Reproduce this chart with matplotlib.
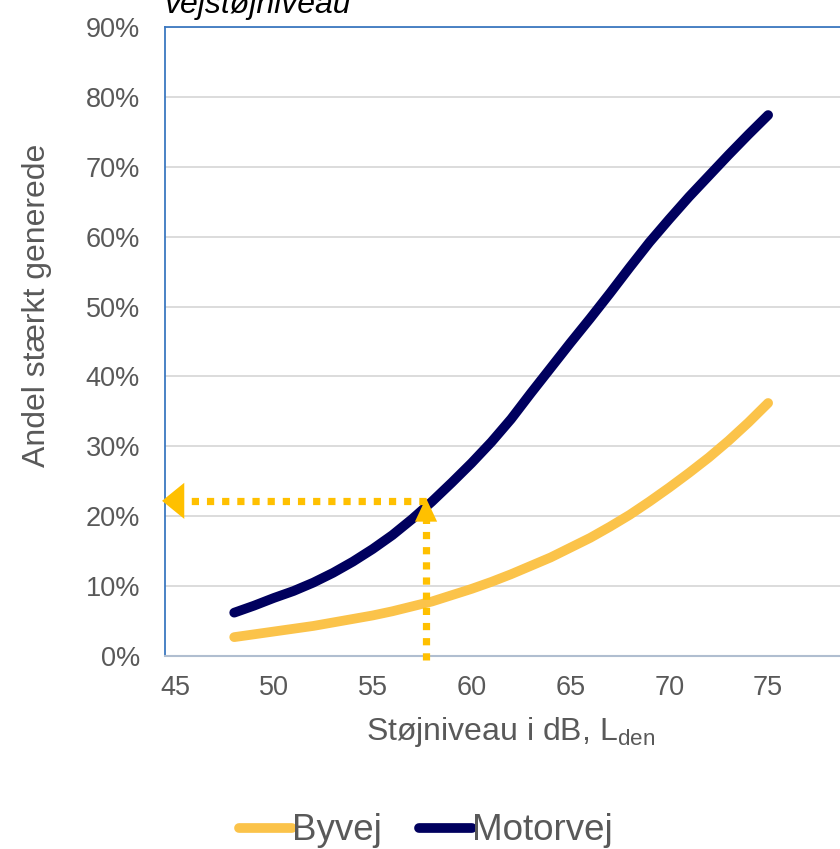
import matplotlib
matplotlib.use("Agg")
import matplotlib.pyplot as plt
from matplotlib.ticker import PercentFormatter, MultipleLocator
from matplotlib.patches import FancyArrowPatch

plt.rcParams['font.family'] = ['Liberation Sans', 'DejaVu Sans']
plt.rcParams['mathtext.fontset'] = 'custom'
plt.rcParams['mathtext.rm'] = 'Liberation Sans'

# data
noise_db = [48, 49, 50, 51, 52, 53, 54, 55, 56, 57, 58, 59, 60, 61,
            62, 63, 64, 65, 66, 67, 68, 69, 70, 71, 72, 73, 74, 75]
motorvej = [6.2, 7.2, 8.3, 9.3, 10.5, 11.9, 13.5, 15.3, 17.3, 19.6, 22.1, 24.8, 27.6, 30.6,
            33.9, 37.6, 41.2, 44.8, 48.3, 51.9, 55.6, 59.2, 62.5, 65.7, 68.7, 71.7, 74.6, 77.4]
byvej = [2.7, 3.1, 3.5, 3.9, 4.3, 4.8, 5.3, 5.8, 6.4, 7.1, 7.8, 8.7, 9.6, 10.6,
         11.7, 12.9, 14.1, 15.5, 16.9, 18.5, 20.2, 22.1, 24.1, 26.2, 28.4, 30.8, 33.4, 36.2]
x_ticks = [45, 50, 55, 60, 65, 70, 75]

example_db = 57.7
example_pct = 22.2

grey = '#595959'
gold = '#FFC000'

fig = plt.figure(figsize=(8.4, 8.49), dpi=100)
ax = fig.add_axes([165/840, 1 - 656/849, 702/840, (656 - 27)/849])

ax.plot(noise_db, byvej, color='#FBC34A', lw=7, solid_capstyle='round',
        solid_joinstyle='round', label='Byvej', zorder=3)
ax.plot(noise_db, motorvej, color='#00005E', lw=7, solid_capstyle='round',
        solid_joinstyle='round', label='Motorvej', zorder=4)

# dotted guide lines with arrow heads
ax.plot([example_db, 45.4], [example_pct, example_pct], color=gold, lw=5.2,
        linestyle=(0, (1, 1.1)), dash_capstyle='butt', zorder=5, clip_on=False)
ax.plot([example_db, example_db], [-0.6, example_pct - 2.5], color=gold, lw=5.2,
        linestyle=(0, (1, 1.1)), dash_capstyle='butt', zorder=5, clip_on=False)

head_h = FancyArrowPatch((45.6, example_pct), (44.35, example_pct),
                         arrowstyle='-|>,head_length=16,head_width=13', mutation_scale=1,
                         color=gold, lw=0, shrinkA=0, shrinkB=0, zorder=6, clip_on=False)
head_v = FancyArrowPatch((example_db, example_pct - 3.6), (example_db, 22.6),
                         arrowstyle='-|>,head_length=17,head_width=8', mutation_scale=1,
                         color=gold, lw=0, shrinkA=0, shrinkB=0, zorder=6, clip_on=False)
ax.add_patch(head_h)
ax.add_patch(head_v)

ax.set_xlim(44.5, 80)
ax.set_ylim(0, 90)
ax.set_xticks(x_ticks)
ax.yaxis.set_major_locator(MultipleLocator(10))
ax.yaxis.set_major_formatter(PercentFormatter(xmax=100, decimals=0))
ax.grid(axis='y', color='#D9D9D9', lw=1.3)
ax.set_axisbelow(True)

ax.tick_params(length=0, labelsize=19.5, labelcolor=grey)
ax.tick_params(axis='y', pad=18)
ax.tick_params(axis='x', pad=14)

for side in ['left', 'top', 'right']:
    ax.spines[side].set_color('#3C78C0')
    ax.spines[side].set_linewidth(1.3)
ax.spines['bottom'].set_color('#B0BED0')
ax.spines['bottom'].set_linewidth(1.5)

fig.text(511/840, 1 - 740/849, 'Støjniveau i dB, L$_{\\mathrm{den}}$', fontsize=23,
         color=grey, ha='center', va='baseline')
fig.text(37/840, 1 - 305/849, 'Andel stærkt generede', fontsize=23, color=grey,
         rotation=90, ha='center', va='center')

fig.text(164/840, 1 - 13/849, 'vejstøjniveau', fontsize=23, style='italic',
         color='black', ha='left', va='baseline')

fig.legend(loc='center', bbox_to_anchor=(426/840, 1 - 831/849), ncol=2, frameon=False,
           fontsize=26.5, labelcolor=grey, handlelength=1.45, handletextpad=0.0,
           columnspacing=1.0, borderpad=0)

fig.savefig('out.png', dpi=100)
